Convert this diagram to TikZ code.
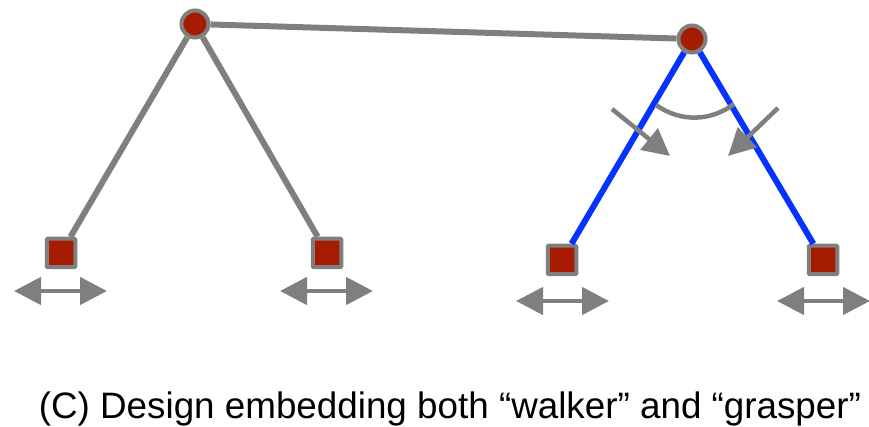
\documentclass[tikz,border=0pt]{standalone}
\usepackage{fontspec}
\setmainfont{Liberation Sans}
\usetikzlibrary{arrows.meta}
\definecolor{linkgray}{HTML}{7F7F7F}
\definecolor{jointred}{HTML}{A61C00}
\definecolor{linkblue}{HTML}{0433FF}

\begin{document}
\begin{tikzpicture}[
  x=1pt, y=-1pt,
  joint/.style={circle, draw=linkgray, fill=jointred, line width=4pt, inner sep=0pt, minimum size=27pt},
  foot/.style={rectangle, rounded corners=1pt, draw=linkgray, fill=jointred, line width=4pt, inner sep=0pt, minimum size=28.5pt},
  link/.style={draw=linkgray, line width=6pt},
  graft/.style={draw=linkblue, line width=6pt},
  slide/.style={{Triangle[length=27pt,width=27pt]}-{Triangle[length=27pt,width=27pt]}, linkgray, line width=4.5pt},
  turn/.style={-{Triangle[length=27pt,width=27pt]}, linkgray, line width=4.5pt}
]
\useasboundingbox (0,0) rectangle (869,427);
\node[joint] (hipl) at (195,24) {};
\node[joint] (hipr) at (692,39) {};
\node[foot] (foota) at (61,253) {};
\node[foot] (footb) at (327,253) {};
\node[foot] (footc) at (562,260) {};
\node[foot] (footd) at (823,260) {};
\draw[link] (hipl) -- (hipr);
\draw[link] (hipl) -- (foota);
\draw[link] (hipl) -- (footb);
\draw[graft] (hipr) -- (footc);
\draw[graft] (hipr) -- (footd);
% sliding arrows under the feet
\coordinate (aw) at (14,291);
\coordinate (ae) at (107,291);
\coordinate (bw) at (280,291);
\coordinate (be) at (373,291);
\coordinate (cw) at (516,301);
\coordinate (ce) at (609,301);
\coordinate (dw) at (777,301);
\coordinate (de) at (870,301);
\draw[slide] (aw) -- (ae);
\draw[slide] (bw) -- (be);
\draw[slide] (cw) -- (ce);
\draw[slide] (dw) -- (de);
% angle between the blue links
\coordinate (arcl) at (656,105);
\coordinate (arcr) at (734,104);
\coordinate (tl) at (612,109);
\coordinate (tlend) at (670,156);
\coordinate (tr) at (778,108);
\coordinate (trend) at (728,156);
\draw[link, line width=4.5pt] (arcl) .. controls (680,122) and (710,122) .. (arcr);
\draw[turn] (tl) -- (tlend);
\draw[turn] (tr) -- (trend);
\node[anchor=base, font=\fontsize{36.8pt}{40pt}\selectfont, inner sep=0pt] (caption) at (450,418) {(C) Design embedding both “walker” and “grasper”};
\end{tikzpicture}
\end{document}
